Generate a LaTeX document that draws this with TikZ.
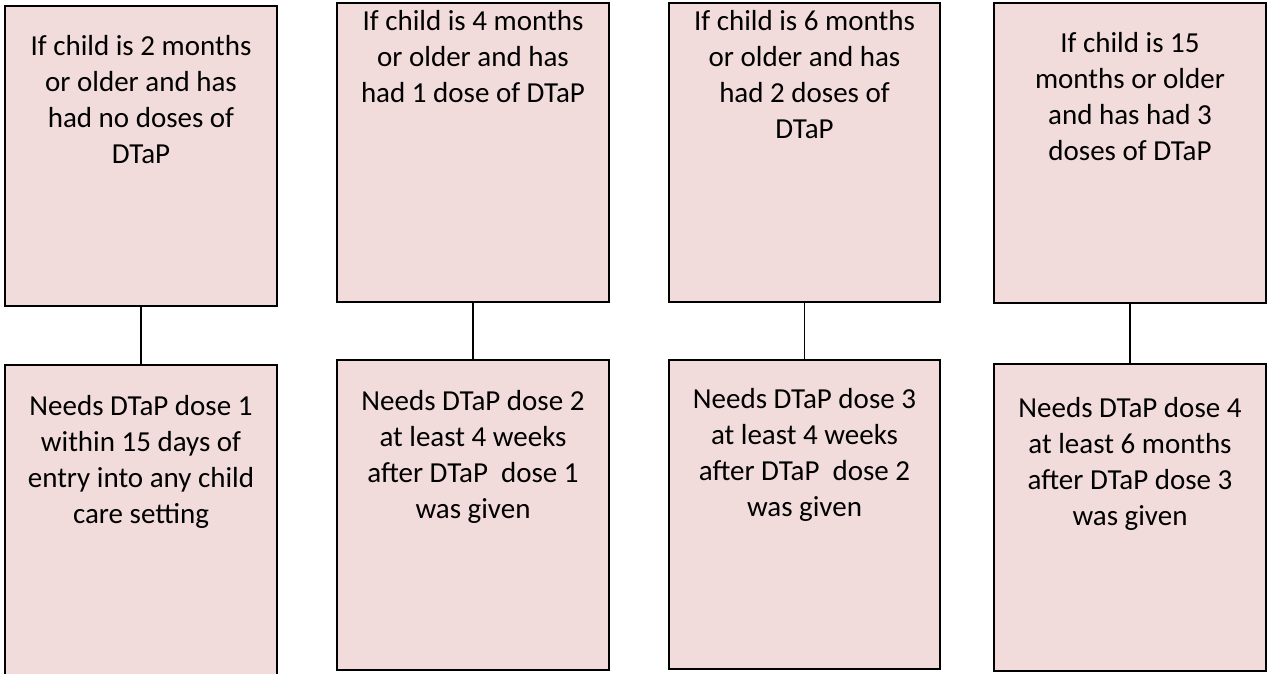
\documentclass[tikz,border=0pt]{standalone}
\usepackage{fontspec}
\setmainfont{Carlito}
\definecolor{boxfill}{HTML}{F2DCDB}
\newcommand{\bodyfont}{\fontsize{29}{36}\selectfont}
\tikzset{
  card/.style={draw=black, line width=2pt, fill=boxfill},
  cardtext/.style={anchor=north, inner sep=0pt, align=center, font=\bodyfont},
  link/.style={draw=black, line width=1.6pt}
}
\begin{document}
\begin{tikzpicture}[x=1pt, y=-1pt]
\useasboundingbox (0,0) rectangle (1268,673);

% upper boxes: conditions
\path[card] (5,6) rectangle (277,306);
\path[card] (337,3) rectangle (609,302);
\path[card] (669,3) rectangle (940,302);
\path[card] (994,3) rectangle (1266,303);

\node (t1) [inner sep=0, minimum width=272pt, minimum height=300pt] at (141,156) {};
\node (t2) [inner sep=0, minimum width=272pt, minimum height=299pt] at (473,152.5) {};
\node (t3) [inner sep=0, minimum width=271pt, minimum height=299pt] at (804.5,152.5) {};
\node (t4) [inner sep=0, minimum width=272pt, minimum height=300pt] at (1130,153) {};

% lower boxes: required doses
\path[card] (5,365) rectangle (277,676);
\path[card] (337,360) rectangle (609,670);
\path[card] (669,360) rectangle (940,669);
\path[card] (994,364) rectangle (1266,671);

\node (b1) [inner sep=0, minimum width=272pt, minimum height=311pt] at (141,520.5) {};
\node (b2) [inner sep=0, minimum width=272pt, minimum height=310pt] at (473,515) {};
\node (b3) [inner sep=0, minimum width=271pt, minimum height=309pt] at (804.5,514.5) {};
\node (b4) [inner sep=0, minimum width=272pt, minimum height=307pt] at (1130,517.5) {};

% connectors
\draw[link] (t1.south) -- (b1.north);
\draw[link] (t2.south) -- (b2.north);
\draw[link] (t3.south) -- (b3.north);
\draw[link] (t4.south) -- (b4.north);

% texts (first baseline = top + 0.7 of the line spacing)
\node (t1txt) [cardtext] at (141,29.8) {\strut If child is 2 months\\or older and has\\had no doses of\\DTaP};
\node (t2txt) [cardtext] at (473,4.8) {\strut If child is 4 months\\or older and has\\had 1 dose of DTaP};
\node (t3txt) [cardtext] at (804.5,4.8) {\strut If child is 6 months\\or older and has\\had 2 doses of\\DTaP};
\node (t4txt) [cardtext] at (1130,26.8) {\strut If child is 15\\months or older\\and has had 3\\doses of DTaP};

\node (b1txt) [cardtext] at (141,389.8) {\strut Needs DTaP dose 1\\within 15 days of\\entry into any child\\care setting};
\node (b2txt) [cardtext] at (473,384.8) {\strut Needs DTaP dose 2\\at least 4 weeks\\after DTaP\ \ dose 1\\was given};
\node (b3txt) [cardtext] at (804.5,382.8) {\strut Needs DTaP dose 3\\at least 4 weeks\\after DTaP\ \ dose 2\\was given};
\node (b4txt) [cardtext] at (1130,391.8) {\strut Needs DTaP dose 4\\at least 6 months\\after DTaP dose 3\\was given};
\end{tikzpicture}
\end{document}
